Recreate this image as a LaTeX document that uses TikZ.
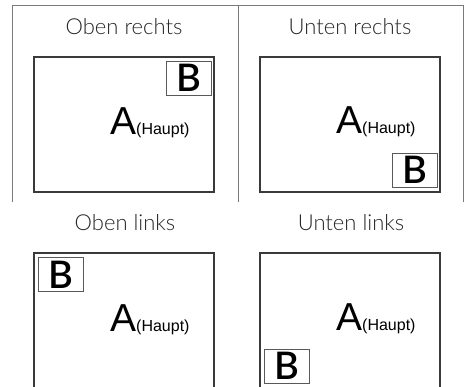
\documentclass[tikz,border=0pt]{standalone}
\usepackage{fontspec}
\setmainfont{Liberation Sans}
\newfontfamily\titlefont{Lato Light}
\newfontfamily\lettrefont{Lato Semibold}
\usepackage{tikz}
\usetikzlibrary{positioning}
\definecolor{cadregris}{HTML}{7A7A7A}
\definecolor{ecrangris}{HTML}{3A3A3A}
\newcommand{\haupt}{{\fontsize{39}{39}\selectfont A}{\fontsize{16}{16}\selectfont(Haupt)}}
\tikzset{
  cadre/.style={draw=cadregris, line width=1pt},
  ecran/.style={draw=ecrangris, line width=1.3pt},
  titre/.style={anchor=base, inner sep=0pt, font=\titlefont\fontsize{22}{22}\selectfont, text=black!85},
  principal/.style={anchor=base west, inner sep=0pt, text=black},
  sousecran/.style={draw=black!65, line width=0.9pt, minimum width=45pt, minimum height=34pt, inner sep=0pt, font=\lettrefont\fontsize{38}{38}\selectfont, text=black},
}

\begin{document}
\begin{tikzpicture}[x=1pt,y=-1pt]
		\useasboundingbox (0,0) rectangle (466,387);
		%cadre
		\draw [cadre] (12,202) -- (12,6) -- (463,6) -- (463,202);
		\draw [cadre] (238,6) -- (238,202);
		%ecrans
		\draw [ecran] (34,57) rectangle (214,192);
		\draw [ecran] (260,57) rectangle (440,192);
		\draw [ecran] (34,387) -- (34,253) -- (214,253) -- (214,387);
		\draw [ecran] (260,387) -- (260,253) -- (440,253) -- (440,387);
		%titres
		\node [titre] (obenrechts) at (124,35) {Oben rechts};
		\node [titre] (untenrechts) at (350,35) {Unten rechts};
		\node [titre] (obenlinks) at (125,231) {Oben links};
		\node [titre] (untenlinks) at (351,231) {Unten links};
		%fenetres A
		\node [principal] (haupt1) at (110,135) {\haupt};
		\node [principal] (haupt2) at (336,134) {\haupt};
		\node [principal] (haupt3) at (110,332) {\haupt};
		\node [principal] (haupt4) at (336,331) {\haupt};
		%fenetres B
		\node [sousecran] (neben1) at (188.5,78) {B};
		\node [sousecran] (neben2) at (414.5,170) {B};
		\node [sousecran] (neben3) at (60.5,274.5) {B};
		\node [sousecran] (neben4) at (286.5,366) {B};
	\end{tikzpicture}
\end{document}
